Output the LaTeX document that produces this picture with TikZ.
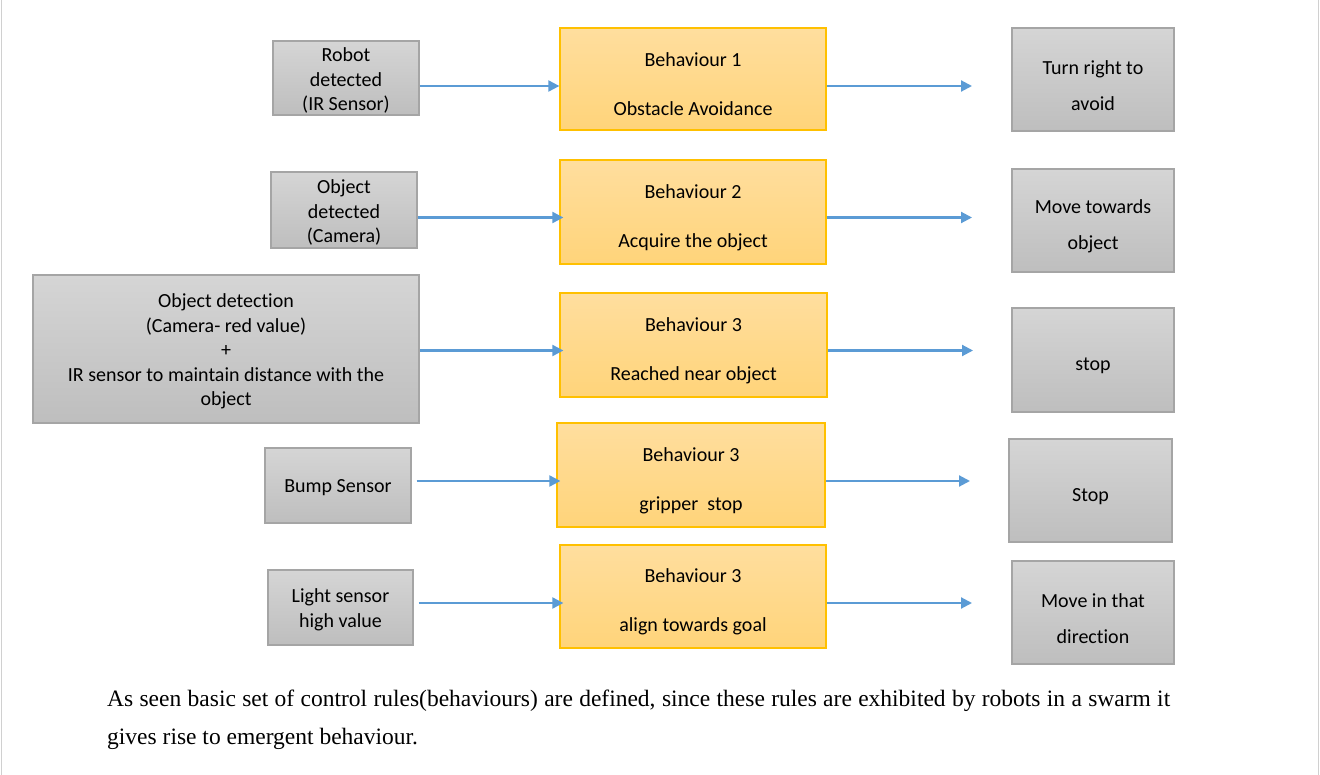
\documentclass[tikz,border=0pt]{standalone}
\usepackage{fontspec}
\setmainfont{Carlito}[Ligatures={NoCommon}]
\newfontfamily\capfont{Liberation Serif}
\usetikzlibrary{arrows.meta}
\definecolor{gtop}{HTML}{D5D5D5}
\definecolor{gbot}{HTML}{BEBEBE}
\definecolor{gedge}{HTML}{A5A5A5}
\definecolor{otop}{HTML}{FFDE9E}
\definecolor{obot}{HTML}{FFD47A}
\definecolor{oedge}{HTML}{FFC000}
\definecolor{ablue}{HTML}{5B9BD5}
\definecolor{edgeline}{HTML}{D0D0D0}
\tikzset{
  gbox/.style={draw=gedge, line width=1.3pt, top color=gtop, bottom color=gbot, inner sep=0pt},
  obox/.style={draw=oedge, line width=1.3pt, top color=otop, bottom color=obot, inner sep=0pt},
  ltxt/.style={align=center, font=\fontsize{20}{24.5}\selectfont, inner sep=0pt},
  otxt/.style={align=center, font=\fontsize{20}{24.5}\selectfont, inner sep=0pt},
  rtxt/.style={align=center, font=\fontsize{20}{36}\selectfont, inner sep=0pt},
  arr/.style={draw=ablue, line width=2.1pt, -{Triangle[length=11pt,width=11pt]}},
}
\newcommand\mkbox[6]{\node[#1, minimum width={(#5-#3)*1pt}, minimum height={(#6-#4)*1pt}] (#2) at ({(#3+#5)/2},{(#4+#6)/2}) {};}
\begin{document}
\begin{tikzpicture}[x=1pt,y=-1pt]
\useasboundingbox (0,0) rectangle (1320,775);
\fill[white] (0,0) rectangle (1320,775);
\draw[edgeline, line width=1.5pt] (1.5,0) -- (1.5,775);
\draw[edgeline, line width=1.5pt] (1318.5,0) -- (1318.5,775);

% left boxes
\mkbox{gbox}{L1}{273}{41}{419}{115}
\mkbox{gbox}{L2}{271}{172}{417}{248}
\mkbox{gbox}{L3}{33}{275}{419}{423}
\mkbox{gbox}{L4}{265}{448}{411}{523}
\mkbox{gbox}{L5}{268}{570}{413}{645}
% behaviour boxes
\mkbox{obox}{O1}{560}{28}{826}{130}
\mkbox{obox}{O2}{560}{160}{826}{264}
\mkbox{obox}{O3}{560}{293}{827}{397}
\mkbox{obox}{O4}{557}{423}{825}{527}
\mkbox{obox}{O5}{560}{545}{826}{648}
% result boxes
\mkbox{gbox}{R1}{1012}{28}{1174}{131}
\mkbox{gbox}{R2}{1012}{169}{1174}{272}
\mkbox{gbox}{R3}{1012}{308}{1174}{412}
\mkbox{gbox}{R4}{1009}{439}{1172}{542}
\mkbox{gbox}{R5}{1012}{561}{1174}{664}

% texts
\node[ltxt] (L1t) at ([yshift=-2.5pt]L1.center) {Robot\\detected\\(IR Sensor)};
\node[ltxt] (L2t) at ([yshift=-2.5pt]L2.center) {Object\\detected\\(Camera)};
\node[ltxt] (L3t) at ([yshift=-2.5pt]L3.center) {Object detection\\(Camera- red value)\\+\\IR sensor to maintain distance with the\\object};
\node[ltxt] (L4t) at ([yshift=-2.5pt]L4.center) {Bump Sensor};
\node[ltxt] (L5t) at ([yshift=-2.5pt]L5.center) {Light sensor\\high value};

\node[otxt] (O1t) at ([yshift=-5.5pt]O1.center) {Behaviour 1\\[24.5pt]Obstacle Avoidance};
\node[otxt] (O2t) at ([yshift=-5.5pt]O2.center) {Behaviour 2\\[24.5pt]Acquire the object};
\node[otxt] (O3t) at ([yshift=-5.5pt]O3.center) {Behaviour 3\\[24.5pt]Reached near object};
\node[otxt] (O4t) at ([yshift=-5.5pt]O4.center) {Behaviour 3\\[24.5pt]gripper\ \ stop};
\node[otxt] (O5t) at ([yshift=-5.5pt]O5.center) {Behaviour 3\\[24.5pt]align towards goal};

\node[rtxt] (R1t) at ([yshift=-6pt]R1.center) {Turn right to\\avoid};
\node[rtxt] (R2t) at ([yshift=-6pt]R2.center) {Move towards\\object};
\node[rtxt] (R3t) at ([yshift=-6pt]R3.center) {stop};
\node[rtxt] (R4t) at ([yshift=-6pt]R4.center) {Stop};
\node[rtxt] (R5t) at ([yshift=-6pt]R5.center) {Move in that\\direction};

% arrow ends
\coordinate (T1) at (972,86);
\coordinate (T2) at (972,217.5);
\coordinate (T3) at (973,350.5);
\coordinate (T4) at (970,481);
\coordinate (T5) at (972,603);

\draw[arr] (L1.east |- 0,86) -- (O1.west |- 0,86);
\draw[arr, shorten >=-4pt] (L2.east |- 0,217.5) -- (O2.west |- 0,217.5);
\draw[arr, shorten >=-4pt] (L3.east |- 0,350.5) -- (O3.west |- 0,350.5);
\draw[arr, shorten >=-4pt, shorten <=5pt] (L4.east |- 0,481) -- (O4.west |- 0,481);
\draw[arr, shorten >=-4pt, shorten <=5pt] (L5.east |- 0,603) -- (O5.west |- 0,603);

\draw[arr] (O1.east |- T1) -- (T1);
\draw[arr] (O2.east |- T2) -- (T2);
\draw[arr] (O3.east |- T3) -- (T3);
\draw[arr] (O4.east |- T4) -- (T4);
\draw[arr] (O5.east |- T5) -- (T5);

% caption
\node[anchor=base west, inner sep=0pt, font=\capfont\fontsize{23.5}{38}\selectfont] (cap1) at (107,706.5)
  {\makebox[1063pt][s]{As seen basic set of control rules(behaviours) are defined, since these rules are exhibited by robots in a swarm it}};
\node[anchor=base west, inner sep=0pt, font=\capfont\fontsize{23.5}{38}\selectfont] (cap2) at (107,744)
  {gives rise to emergent behaviour.};
\end{tikzpicture}
\end{document}
